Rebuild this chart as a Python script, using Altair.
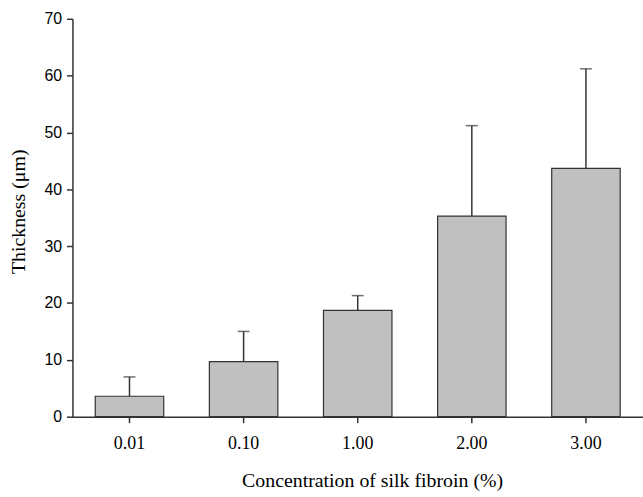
import altair as alt
import pandas as pd

categories = ["0.01", "0.10", "1.00", "2.00", "3.00"]
means = [3.6, 9.7, 18.7, 35.3, 43.7]
uppers = [7.0, 15.0, 21.3, 51.2, 61.2]

df = pd.DataFrame({"conc": categories, "mean": means, "upper": uppers})

x = alt.X("conc:N", sort=categories,
          scale=alt.Scale(paddingInner=0.4, paddingOuter=0.2),
          axis=alt.Axis(title="Concentration of silk fibroin (%)", labelAngle=0,
                        labelAlign="center", labelBaseline="top",
                        labelFont="Liberation Serif", labelFontSize=18, labelColor="#000",
                        labelPadding=12, tickSize=6, tickColor="#333", tickWidth=1.5,
                        domainColor="#333", domainWidth=1.5,
                        titleFont="Liberation Serif", titleFontSize=20, titleFontWeight="normal",
                        titleColor="#000", titleX=302, titleY=70, titleBaseline="alphabetic",
                        titleAlign="center"))
y_scale = alt.Scale(domain=[0, 70], nice=False)
y_axis = alt.Axis(title="Thickness (μm)", values=[0, 10, 20, 30, 40, 50, 60, 70], grid=False,
                  labelFont="Liberation Sans", labelFontSize=16, labelColor="#000",
                  labelPadding=5, tickSize=6, tickColor="#333", tickWidth=1.5,
                  domainColor="#333", domainWidth=1.5,
                  titleFont="Liberation Serif", titleFontSize=20, titleFontWeight="normal",
                  titleColor="#000", titleAngle=270, titleX=-48, titleY=194,
                  titleBaseline="alphabetic", titleAlign="center")

bars = alt.Chart(df).mark_bar(color="#c0c0c0", stroke="#333", strokeWidth=1.2).encode(
    x=x, y=alt.Y("mean:Q", scale=y_scale, axis=y_axis))
rules = alt.Chart(df).mark_rule(color="#333", strokeWidth=1.5).encode(
    x=alt.X("conc:N", sort=categories), y="mean:Q", y2="upper:Q")
caps = alt.Chart(df).mark_tick(color="#333", thickness=1.5, size=12).encode(
    x=alt.X("conc:N", sort=categories), y="upper:Q")

chart = (rules + bars + caps).properties(
    width=575, height=401,
    background="white",
    autosize=alt.AutoSizeParams(type="none"),
    padding={"left": 73, "top": 17, "right": 0, "bottom": 79},
).configure_view(strokeWidth=0, stroke="transparent")

chart.save("out.html", embed_options={"renderer": "svg", "actions": False})
